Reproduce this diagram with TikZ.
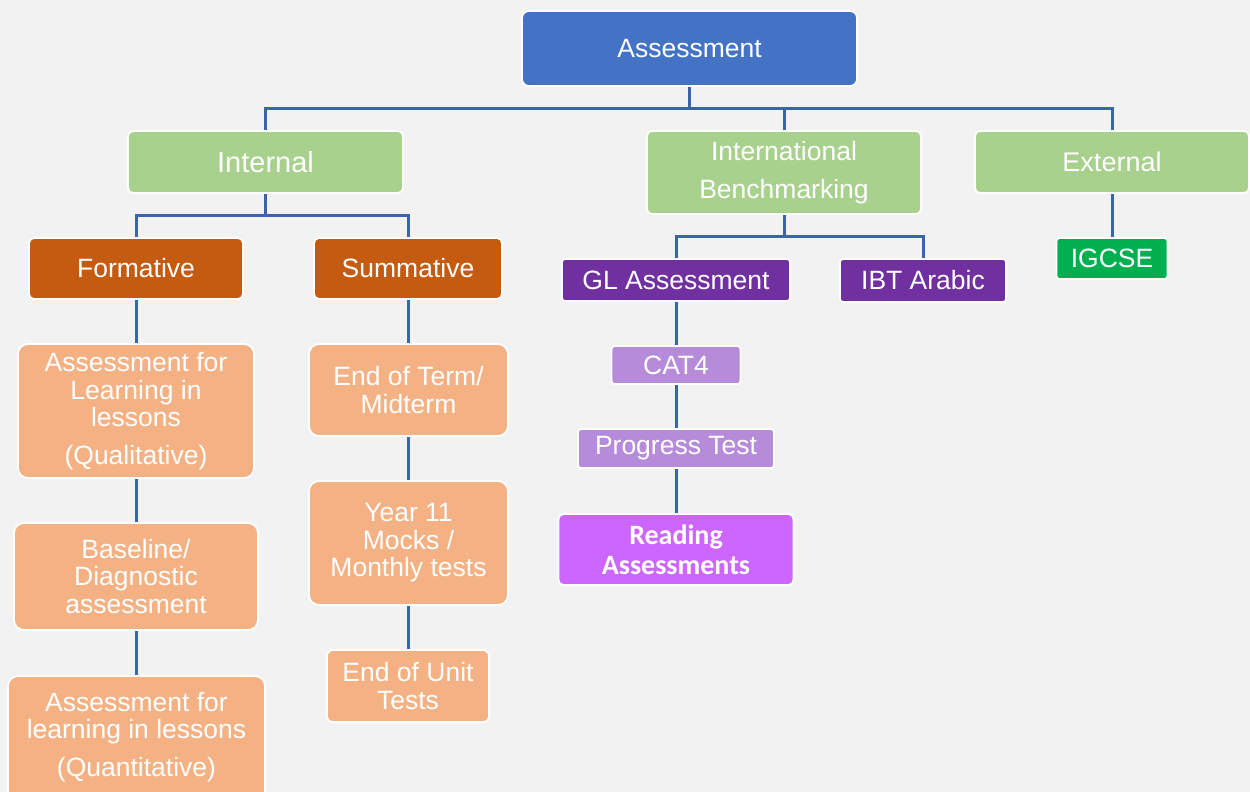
\documentclass[tikz,border=0pt]{standalone}
\usepackage{fontspec}
\setmainfont{Liberation Sans}
\newfontfamily\carlito{Carlito}
\pgfdeclarelayer{background}
\pgfsetlayers{background,main}
\definecolor{bgc}{HTML}{F2F2F2}
\definecolor{topblue}{HTML}{4472C4}
\definecolor{lgreen}{HTML}{A9D18E}
\definecolor{dorange}{HTML}{C55A11}
\definecolor{lorange}{HTML}{F4B183}
\definecolor{dpurple}{HTML}{7030A0}
\definecolor{lpurple}{HTML}{B68BD9}
\definecolor{mpurple}{HTML}{CC66FF}
\definecolor{dgreen}{HTML}{00B050}
\definecolor{connc}{HTML}{3B64AD}
\tikzset{
  box/.style={draw=white, line width=1.8pt, rounded corners=5pt, text=white,
    align=center, inner sep=0pt, font=\fontsize{26.5pt}{27.5pt}\selectfont},
  bigbox/.style={box, rounded corners=10pt, fill=lorange},
  conn/.style={draw=connc, line width=3pt},
  plaintxt/.style={text=white, align=center, inner sep=0pt, font=\fontsize{26.5pt}{27.5pt}\selectfont}
}
\begin{document}
\begin{tikzpicture}[x=1pt,y=-1pt]
\begin{pgfonlayer}{background}
\fill[bgc] (0,0) rectangle (1250,792);
\end{pgfonlayer}
\useasboundingbox (0,0) rectangle (1250,792);

% level 0
\node[box, fill=topblue, rounded corners=7pt, minimum width=335pt, minimum height=75pt] (assess) at (689.5,48.5) {Assessment};

% level 1
\node[box, fill=lgreen, minimum width=275pt, minimum height=62pt, font=\fontsize{29pt}{30pt}\selectfont] (internal) at (265.5,162) {Internal};
\node[box, fill=lgreen, minimum width=274pt, minimum height=83pt, font=\fontsize{26.5pt}{38pt}\selectfont] (intl) at (784,172.5) {International\\Benchmarking};
\node[box, fill=lgreen, minimum width=274pt, minimum height=62pt, font=\fontsize{27pt}{28pt}\selectfont] (external) at (1112,162) {External};

% level 2
\node[box, fill=dorange, minimum width=214pt, minimum height=61pt] (formative) at (136,268.5) {Formative};
\node[box, fill=dorange, minimum width=188pt, minimum height=61pt] (summative) at (408,268.5) {Summative};
\node[box, fill=dpurple, rounded corners=3pt, minimum width=228pt, minimum height=42pt] (gl) at (676,280) {GL Assessment};
\node[box, fill=dpurple, rounded corners=3pt, minimum width=166pt, minimum height=43pt] (ibt) at (923,280.5) {IBT Arabic};
\node[box, fill=dgreen, rounded corners=3pt, minimum width=111pt, minimum height=41pt] (igcse) at (1112,258.5) {IGCSE};

% GL column
\node[box, fill=lpurple, rounded corners=3pt, minimum width=129pt, minimum height=38pt] (cat4) at (676,365) {CAT4};
\node[box, fill=lpurple, rounded corners=3pt, minimum width=196pt, minimum height=39pt] (progress) at (676,448.5) {Progress Test};
\node[box, fill=mpurple, minimum width=235pt, minimum height=71pt, font=\carlito\bfseries\fontsize{28pt}{30pt}\selectfont] (reading) at (676,549.5) {Reading\\Assessments};

% Formative column
\node[bigbox, minimum width=236pt, minimum height=134pt] (afl) at (136,411) {Assessment for\\Learning in\\lessons\\[10pt](Qualitative)};
\node[bigbox, minimum width=244pt, minimum height=107pt] (base) at (136,576.5) {Baseline/\\Diagnostic\\assessment};
\node[bigbox, minimum width=257pt, minimum height=130pt] (quant) at (136.5,741) {};
\node[plaintxt] (quanttxt) at (136.5,737) {Assessment for\\learning in lessons\\[10pt](Quantitative)};

% Summative column
\node[bigbox, minimum width=199pt, minimum height=92pt] (eot) at (408.5,390) {End of Term/\\Midterm};
\node[bigbox, minimum width=199pt, minimum height=124pt] (y11) at (408.5,543) {Year 11\\Mocks /\\Monthly tests};
\node[bigbox, rounded corners=6pt, minimum width=162pt, minimum height=72pt] (eou) at (408,686) {End of Unit\\Tests};

% bus points
\coordinate (bA) at (689.5,108);
\coordinate (bI) at (265.5,215);
\coordinate (bB) at (784,236);

\begin{pgfonlayer}{background}
\draw[conn] (assess.south) -- (bA);
\draw[conn] (internal.north) |- (bA);
\draw[conn] (intl.north) |- (bA);
\draw[conn] (external.north) |- (bA);
\draw[conn] (internal.south) -- (bI);
\draw[conn] (formative.north) |- (bI);
\draw[conn] (summative.north) |- (bI);
\draw[conn] (intl.south) -- (bB);
\draw[conn] (gl.north) |- (bB);
\draw[conn] (ibt.north) |- (bB);
\draw[conn] (external.south) -- (igcse.north);
\draw[conn] (gl.south) -- (cat4.north);
\draw[conn] (cat4.south) -- (progress.north);
\draw[conn] (progress.south) -- (reading.north);
\draw[conn] (formative.south) -- (afl.north);
\draw[conn] (afl.south) -- (base.north);
\draw[conn] (base.south) -- (quant.north -| base.south);
\draw[conn] (summative.south) -- (eot.south -| summative.south);
\draw[conn] (eot.south -| summative.south) -- (y11.north -| summative.south);
\draw[conn] (y11.south -| eou.north) -- (eou.north);
\end{pgfonlayer}
\end{tikzpicture}
\end{document}
